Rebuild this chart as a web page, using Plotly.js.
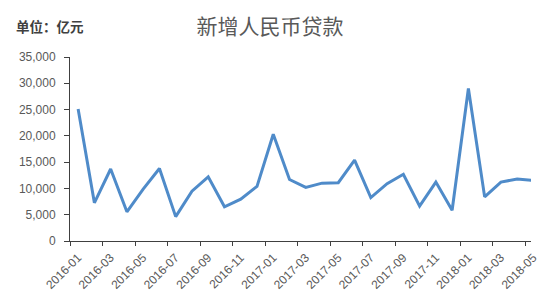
<!DOCTYPE html>
<html>
<head>
<meta charset="utf-8">
<script src="https://cdn.plot.ly/plotly-3.0.1.min.js"></script>
<style>
html,body{margin:0;padding:0;background:#fff;}
#chart{width:550px;height:300px;}
</style>
</head>
<body>
<div id="chart"></div>
<script>
// Monthly new RMB loans (亿元), 2016-01 .. 2018-05
var months = ["2016-01","2016-02","2016-03","2016-04","2016-05","2016-06","2016-07","2016-08","2016-09","2016-10","2016-11","2016-12",
              "2017-01","2017-02","2017-03","2017-04","2017-05","2017-06","2017-07","2017-08","2017-09","2017-10","2017-11","2017-12",
              "2018-01","2018-02","2018-03","2018-04","2018-05"];
var loans = [25100,7266,13700,5556,9855,13800,4636,9487,12200,6513,7946,10400,
             20300,11700,10200,11000,11100,15400,8255,10900,12700,6632,11200,5844,
             29000,8393,11200,11800,11500];
// tick labels every two months
var tickLabels = ["2016-01","2016-03","2016-05","2016-07","2016-09","2016-11","2017-01","2017-03","2017-05","2017-07","2017-09","2017-11","2018-01","2018-03","2018-05"];

var xIdx = months.map(function(m, i){ return i; });
var tickVals = tickLabels.map(function(l){ return months.indexOf(l) - 0.5; });

var trace = {
  x: xIdx,
  y: loans,
  type: 'scatter',
  mode: 'lines',
  line: {color: '#4f8bc9', width: 3},
  hoverinfo: 'skip'
};

var layout = {
  width: 550, height: 300,
  margin: {l: 70, r: 19, t: 57, b: 59},
  paper_bgcolor: '#ffffff',
  plot_bgcolor: '#ffffff',
  showlegend: false,
  font: {family: '"Liberation Sans", Arial, sans-serif', color: '#595959'},
  title: {
    text: '新增人民币贷款',
    font: {family: '"Noto Sans CJK SC", sans-serif', size: 21, color: '#595959'},
    x: 0.491, xref: 'container', xanchor: 'center',
    y: 0.91, yref: 'container', yanchor: 'middle'
  },
  annotations: [{
    text: '<b>单位：亿元</b>',
    xref: 'paper', yref: 'paper',
    x: -0.122, y: 1.17, xanchor: 'left', yanchor: 'middle',
    showarrow: false,
    font: {family: '"Noto Sans CJK SC", sans-serif', size: 13.5, color: '#404040'}
  }],
  xaxis: {
    range: [-0.5, 27.85],
    tickmode: 'array',
    tickvals: tickVals,
    ticktext: tickLabels,
    tickangle: -45,
    ticklabelshift: 8,
    ticks: 'outside', ticklen: 4, tickcolor: '#404040', tickwidth: 1,
    showline: true, linecolor: '#404040', linewidth: 1,
    showgrid: false, zeroline: false,
    tickfont: {size: 12, color: '#595959'},
    fixedrange: true
  },
  yaxis: {
    range: [0, 35000],
    tickvals: [0,5000,10000,15000,20000,25000,30000,35000],
    ticktext: ['0','5,000','10,000','15,000','20,000','25,000','30,000','35,000'],
    ticks: 'outside', ticklen: 5, tickcolor: '#404040', tickwidth: 1,
    ticklabelstandoff: 6,
    showline: true, linecolor: '#404040', linewidth: 1,
    showgrid: false, zeroline: false,
    tickfont: {size: 12, color: '#595959'},
    fixedrange: true
  }
};

Plotly.newPlot('chart', [trace], layout, {displayModeBar: false, staticPlot: true});
</script>
</body>
</html>
